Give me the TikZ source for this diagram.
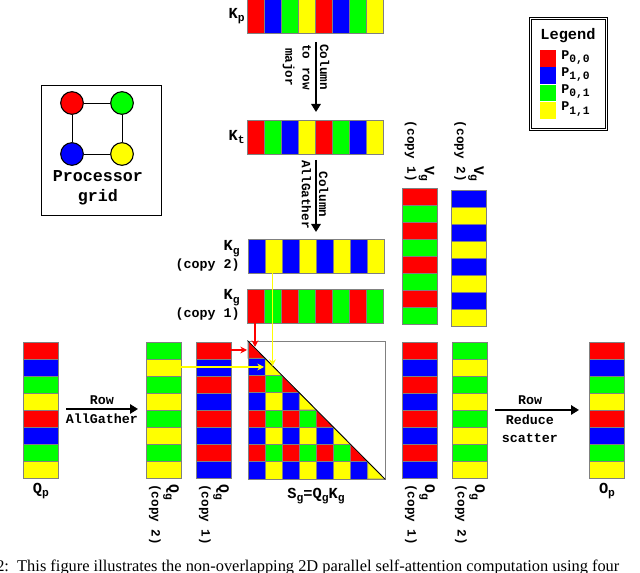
\documentclass[tikz,border=0pt]{standalone}
\usepackage{fontspec}
\setmonofont{Liberation Mono}
\setmainfont{Liberation Serif}
\usetikzlibrary{arrows.meta}
\definecolor{cr}{RGB}{255,0,0}
\definecolor{cb}{RGB}{0,0,255}
\definecolor{cg}{RGB}{0,255,0}
\definecolor{cy}{RGB}{255,255,0}
\newcommand{\hstrip}[4]{\foreach \c [count=\i] in {#4} {\node[hcell,fill=\c] (#1\i) at ({#2+(\i-0.5)*17.1},#3) {};}}
\newcommand{\vstrip}[4]{\foreach \c [count=\i] in {#4} {\node[vcell,fill=\c] (#1\i) at (#2,{#3+(\i-0.5)*17}) {};}}
\newcommand{\mysub}[1]{\raisebox{-0.45ex}{\fontsize{8.5}{9}\selectfont #1}}
\begin{document}
\begin{tikzpicture}[x=0.75pt,y=-0.75pt,
  hcell/.style={draw=gray,line width=0.5pt,minimum width=12.8pt,minimum height=25.5pt,inner sep=0pt,outer sep=0pt},
  vcell/.style={draw=gray,line width=0.5pt,minimum width=26pt,minimum height=12.75pt,inner sep=0pt,outer sep=0pt},
  lab/.style={font=\ttfamily\bfseries\fontsize{10}{13.5}\selectfont,align=center,inner sep=0pt},
  big/.style={font=\ttfamily\bfseries\fontsize{11.5}{13}\selectfont},
  rlab/.style={lab,rotate=-90,font=\ttfamily\bfseries\fontsize{9.5}{13}\selectfont},
  bigarrow/.style={line width=2.2pt,-{Triangle[length=6pt,width=7pt]}},
  carrow/.style={line width=1.2pt,-{Stealth[length=5pt,width=5pt]}}]
\useasboundingbox (0,0) rectangle (640,573);
% processor grid
\node[draw,line width=0.7pt,minimum width=90pt,minimum height=97pt,inner sep=0pt] (pg) at (101.5,150.5) {};
\node[circle,draw,line width=0.8pt,fill=cr,minimum size=17pt,inner sep=0pt] (p00) at (72,103) {};
\node[circle,draw,line width=0.8pt,fill=cg,minimum size=17pt,inner sep=0pt] (p01) at (122,103) {};
\node[circle,draw,line width=0.8pt,fill=cb,minimum size=17pt,inner sep=0pt] (p10) at (72,154) {};
\node[circle,draw,line width=0.8pt,fill=cy,minimum size=17pt,inner sep=0pt] (p11) at (122,154) {};
\draw[line width=0.7pt] (p00)--(p01) (p01)--(p11) (p11)--(p10) (p10)--(p00);
\node[lab,font=\ttfamily\bfseries\fontsize{12.5}{15}\selectfont] (pgt) at (98,188) {Processor\\grid};
% legend
\node[draw,double,line width=0.6pt,minimum width=57pt,minimum height=83pt,inner sep=0pt] (leg) at (568.5,74) {};
\node[lab,font=\ttfamily\bfseries\fontsize{11.5}{12}\selectfont] (legt) at (568,36) {Legend};
\foreach \c/\t [count=\i] in {cr/{0,0},cb/{1,0},cg/{0,1},cy/{1,1}} {
  \node[fill=\c,minimum width=12pt,minimum height=12.5pt,inner sep=0pt] (lg\i) at (548,{41+\i*17.3}) {};
  \node[lab,anchor=west] (lt\i) at (561,{40+\i*17.3}) {P\mysub{\t}};
}
% K strips
\hstrip{kp}{247}{16.5}{cr,cb,cg,cy,cr,cb,cg,cy}
\hstrip{kt}{247}{137}{cr,cg,cb,cy,cr,cg,cb,cy}
\hstrip{kgb}{248}{256}{cb,cy,cb,cy,cb,cy,cb,cy}
\hstrip{kga}{247}{306}{cr,cg,cr,cg,cr,cg,cr,cg}
\node[lab,big,anchor=east] (kpl) at (245,16) {K\mysub{p}};
\node[lab,big,anchor=east] (ktl) at (245,137) {K\mysub{t}};
\node[lab,anchor=east,align=right] (kgbl) at (240,256) {{\fontsize{11.5}{12}\selectfont K\mysub{g}}\\(copy 2)};
\node[lab,anchor=east,align=right] (kgal) at (240,305) {{\fontsize{11.5}{12}\selectfont K\mysub{g}}\\(copy 1)};
% column arrows
\coordinate (a1s) at (316,42); \coordinate (a1e) at (316,112);
\coordinate (a2s) at (316,160); \coordinate (a2e) at (316,232);
\node[rlab,anchor=west] (a1l) at (306,44) {Column\\to row\\major};
\node[rlab,anchor=west] (a2l) at (315,160) {Column\\AllGather};
\draw[bigarrow] (a1s)--(a1e);
\draw[bigarrow] (a2s)--(a2e);
% V strips
\vstrip{va}{419.5}{188}{cr,cg,cr,cg,cr,cg,cr,cg}
\vstrip{vb}{469}{190}{cb,cy,cb,cy,cb,cy,cb,cy}
\node[rlab,anchor=east,align=right] (val) at (419.5,182) {{\fontsize{11}{12}\selectfont V\mysub{g}}\\(copy 1)};
\node[rlab,anchor=east,align=right] (vbl) at (469,182) {{\fontsize{11}{12}\selectfont V\mysub{g}}\\(copy 2)};
% bottom strips
\vstrip{qp}{41}{342}{cr,cb,cg,cy,cr,cb,cg,cy}
\vstrip{qb}{163.5}{342}{cg,cy,cg,cy,cg,cy,cg,cy}
\vstrip{qa}{213.5}{342}{cr,cb,cr,cb,cr,cb,cr,cb}
\vstrip{oa}{419.5}{342}{cr,cb,cr,cb,cr,cb,cr,cb}
\vstrip{ob}{469.5}{342}{cg,cy,cg,cy,cg,cy,cg,cy}
\vstrip{op}{607}{342}{cr,cb,cg,cy,cr,cb,cg,cy}
\node[lab,big] (qpl) at (41,491) {Q\mysub{p}};
\node[lab,big] (opl) at (607,491) {O\mysub{p}};
\node[rlab,anchor=west,align=left] (qbl) at (164,484) {{\fontsize{11}{12}\selectfont Q\mysub{g}}\\(copy 2)};
\node[rlab,anchor=west,align=left] (qal) at (214,484) {{\fontsize{11}{12}\selectfont Q\mysub{g}}\\(copy 1)};
\node[rlab,anchor=west,align=left] (oal) at (420,484) {{\fontsize{11}{12}\selectfont O\mysub{g}}\\(copy 1)};
\node[rlab,anchor=west,align=left] (obl) at (470,484) {{\fontsize{11}{12}\selectfont O\mysub{g}}\\(copy 2)};
% S matrix
\foreach \i in {0,...,7} {
  \foreach \j in {0,...,\i} {
    \pgfmathtruncatemacro{\kk}{2*mod(\i,2)+mod(\j,2)}
    \pgfmathsetmacro{\cc}{{"cr","cg","cb","cy"}[\kk]}
    \ifnum\i=\j
      \fill[fill=\cc,draw=gray,line width=0.5pt] ({248+\j*17.1},{341+\i*17.25}) -- ({248+\j*17.1},{341+(\i+1)*17.25}) -- ({248+(\j+1)*17.1},{341+(\i+1)*17.25}) -- cycle;
    \else
      \fill[fill=\cc,draw=gray,line width=0.5pt] ({248+\j*17.1},{341+\i*17.25}) rectangle ({248+(\j+1)*17.1},{341+(\i+1)*17.25});
    \fi
  }
}
\node[draw=gray,line width=0.6pt,minimum width=102.75pt,minimum height=103.5pt,inner sep=0pt] (sm) at (316.4,410) {};
\draw[line width=0.6pt] (sm.north west)--(sm.south east);
\node[lab,big] (sml) at (316,496) {S\mysub{g}=Q\mysub{g}K\mysub{g}};
% red / yellow arrows
\coordinate (rv) at (255,347);
\coordinate (rh) at (247,350);
\coordinate (yv) at (272.5,366);
\coordinate (yh) at (264,367);
\draw[carrow,cr] (kga1.south -| rv) -- (rv);
\draw[carrow,cr] (qa1.east |- rh) -- (rh);
\draw[carrow,cy] (kgb2.south -| yv) -- (yv);
\draw[carrow,cy] (qb2.east |- yh) -- (yh);
% row arrows
\coordinate (r1s) at (66,409); \coordinate (r1e) at (138,409);
\draw[bigarrow] (r1s)--(r1e);
\node[lab] (r1a) at (102,400) {Row};
\node[lab] (r1b) at (102,419) {AllGather};
\coordinate (r2s) at (495,410); \coordinate (r2e) at (579,410);
\draw[bigarrow] (r2s)--(r2e);
\node[lab] (r2a) at (530,400) {Row};
\node[lab] (r2b) at (530,429) {Reduce\\scatter};
% caption
\node[anchor=west,inner sep=0pt,font=\fontsize{12.3}{14}\selectfont] (cap) at (-4,567) {2:\ \ This figure illustrates the non-overlapping 2D parallel self-attention computation using four};
\end{tikzpicture}
\end{document}
